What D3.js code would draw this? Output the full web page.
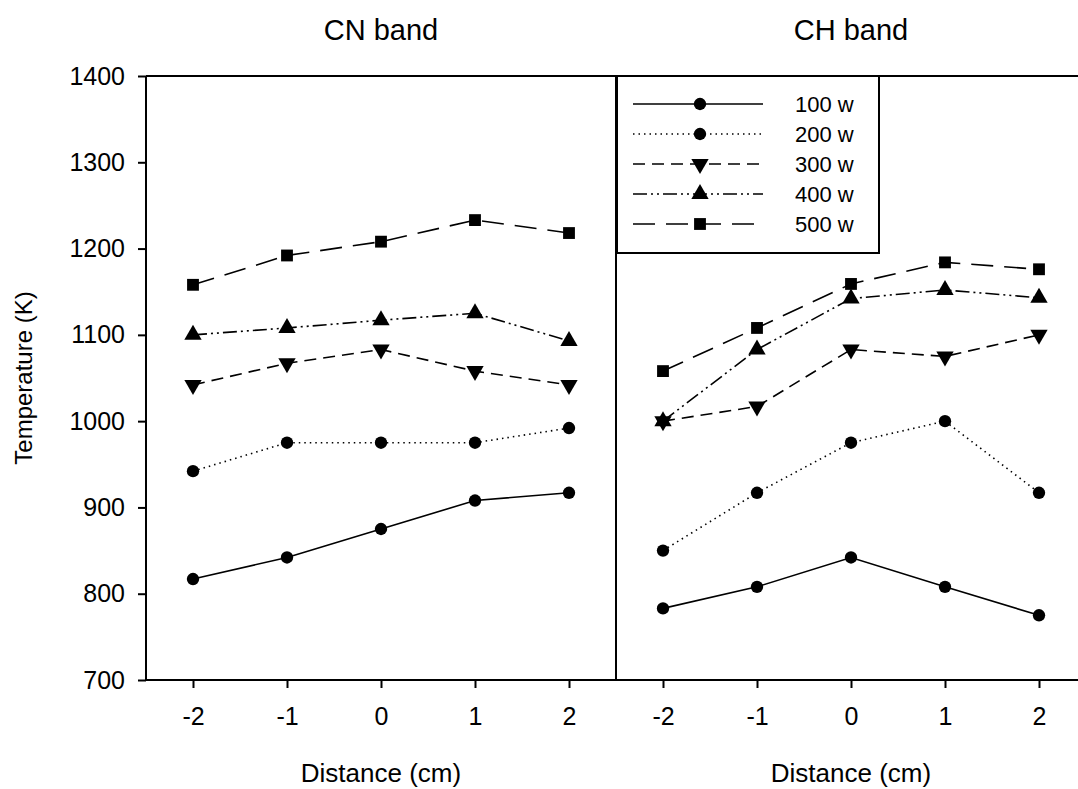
<!DOCTYPE html>
<html>
<head>
<meta charset="utf-8">
<script src="https://cdn.jsdelivr.net/npm/d3@7"></script>
<style>
  body { margin: 0; background: #fff; }
  svg { display: block; font-family: "Liberation Sans", Arial, sans-serif; }
</style>
</head>
<body>
<div id="chart"></div>
<script>
// data
const distances = [-2, -1, 0, 1, 2];
const seriesNames = ["100 w", "200 w", "300 w", "400 w", "500 w"];
const panelTitles = ["CN band", "CH band"];
const yTicks = [700, 800, 900, 1000, 1100, 1200, 1300, 1400];

const cn100 = [817, 842, 875, 908, 917];
const cn200 = [942, 975, 975, 975, 992];
const cn300 = [1042, 1067, 1083, 1058, 1042];
const cn400 = [1100, 1108, 1117, 1125, 1093];
const cn500 = [1158, 1192, 1208, 1233, 1218];

const ch100 = [783, 808, 842, 808, 775];
const ch200 = [850, 917, 975, 1000, 917];
const ch300 = [1000, 1017, 1083, 1075, 1100];
const ch400 = [1000, 1083, 1142, 1152, 1143];
const ch500 = [1058, 1108, 1159, 1184, 1176];

const panels = [
  [cn100, cn200, cn300, cn400, cn500],
  [ch100, ch200, ch300, ch400, ch500]
];

const w = 1078, h = 789;
const plotTop = 76, plotBottom = 680, left0 = 146, panelW = 470;
const font = "Liberation Sans, Arial, sans-serif";

// line style + marker per series
const dashes = [null, "1.5,4", "12,7", "14,4,2,4,2,4", "22,11"];
const symbols = [d3.symbolCircle, d3.symbolCircle, "down", d3.symbolTriangle, d3.symbolSquare];
const symSize = [120, 120, 130, 130, 140];

const svg = d3.select("#chart").append("svg")
  .attr("width", w)
  .attr("height", h);

const yScale = d3.scaleLinear().domain([700, 1400]).range([plotBottom, plotTop]);

function marker(g, i, x, y) {
  const down = symbols[i] === "down";
  g.append("path")
    .attr("d", d3.symbol().type(down ? d3.symbolTriangle : symbols[i]).size(symSize[i])())
    .attr("transform", `translate(${x},${y})` + (down ? " rotate(180)" : ""))
    .attr("fill", "#000");
}

panels.forEach((series, p) => {
  const x0 = left0 + p * panelW;
  const xScale = d3.scaleLinear().domain([-2.5, 2.5]).range([x0, x0 + panelW]);

  const line = d3.line()
    .x((d, i) => xScale(distances[i]))
    .y(d => yScale(d));

  const g = svg.append("g");
  series.forEach((vals, i) => {
    const path = g.append("path")
      .datum(vals)
      .attr("d", line)
      .attr("fill", "none")
      .attr("stroke", "#000")
      .attr("stroke-width", 1.6);
    if (dashes[i]) path.attr("stroke-dasharray", dashes[i]);
    vals.forEach((v, j) => marker(g, i, xScale(distances[j]), yScale(v)));
  });

  // x axis
  const xAxis = svg.append("g")
    .attr("transform", `translate(0, ${plotBottom})`)
    .call(d3.axisBottom(xScale).tickValues(distances).tickFormat(d => String(d))
      .tickSize(8).tickPadding(19).tickSizeOuter(0));
  xAxis.select(".domain").remove();
  xAxis.selectAll("line").attr("stroke-width", 2);
  xAxis.selectAll("text").attr("font-size", 25).attr("font-family", font).attr("fill", "#000");

  // panel title and x label
  svg.append("text")
    .attr("x", x0 + panelW / 2).attr("y", 40)
    .attr("text-anchor", "middle").attr("font-size", 29)
    .text(panelTitles[p]);
  svg.append("text")
    .attr("x", x0 + panelW / 2).attr("y", 782)
    .attr("text-anchor", "middle").attr("font-size", 26)
    .text("Distance (cm)");
});

// y axis
const yAxis = svg.append("g")
  .attr("transform", `translate(${left0}, 0)`)
  .call(d3.axisLeft(yScale).tickValues(yTicks).tickFormat(d => String(d))
    .tickSize(8).tickPadding(13).tickSizeOuter(0));
yAxis.select(".domain").remove();
yAxis.selectAll("line").attr("stroke-width", 2);
yAxis.selectAll("text").attr("font-size", 25).attr("font-family", font).attr("fill", "#000");

svg.append("text")
  .attr("transform", `translate(32, ${(plotTop + plotBottom) / 2}) rotate(-90)`)
  .attr("text-anchor", "middle").attr("font-size", 24)
  .text("Temperature (K)");

// frame: left, top, bottom, divider
const frame = svg.append("g").attr("stroke", "#000").attr("stroke-width", 2);
frame.append("line").attr("x1", left0).attr("x2", left0).attr("y1", plotTop).attr("y2", plotBottom);
frame.append("line").attr("x1", left0).attr("x2", left0 + 2 * panelW).attr("y1", plotTop).attr("y2", plotTop);
frame.append("line").attr("x1", left0).attr("x2", left0 + 2 * panelW).attr("y1", plotBottom).attr("y2", plotBottom);
frame.append("line").attr("x1", left0 + panelW).attr("x2", left0 + panelW).attr("y1", plotTop).attr("y2", plotBottom);

// legend
const lg = svg.append("g");
lg.append("rect")
  .attr("x", 617).attr("y", plotTop).attr("width", 262).attr("height", 177)
  .attr("fill", "#fff").attr("stroke", "#000").attr("stroke-width", 2);
seriesNames.forEach((name, i) => {
  const y = 104 + i * 30;
  const l = lg.append("line")
    .attr("x1", 633).attr("x2", 763).attr("y1", y).attr("y2", y)
    .attr("stroke", "#000").attr("stroke-width", 1.6);
  if (dashes[i]) l.attr("stroke-dasharray", dashes[i]);
  marker(lg, i, 700, y);
  lg.append("text")
    .attr("x", 795).attr("y", y).attr("dy", "0.35em")
    .attr("font-size", 22)
    .text(name);
});
</script>
</body>
</html>
